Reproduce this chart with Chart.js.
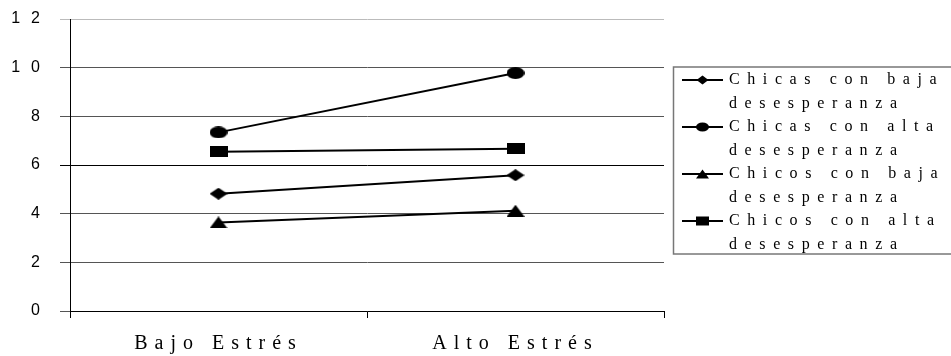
<!DOCTYPE html>
<html>
<head>
<meta charset="utf-8">
<script src="https://cdn.jsdelivr.net/npm/chart.js@4/dist/chart.umd.min.js"></script>
<style>
  html, body { margin: 0; padding: 0; background: #fff; }
  #wrap { width: 951px; height: 356px; }
</style>
</head>
<body>
<div id="wrap"><canvas id="chart"></canvas></div>
<script>
// data
const stressLevels = ['Bajo Estrés', 'Alto Estrés'];
const yTicks = [0, 2, 4, 6, 8, 10, 12];
const chicasBaja = [4.82, 5.58];
const chicasAlta = [7.34, 9.78];
const chicosBaja = [3.64, 4.12];
const chicosAlta = [6.54, 6.67];
const seriesNames = [
    ['Chicas con baja', 'desesperanza'],
    ['Chicas con alta', 'desesperanza'],
    ['Chicos con baja', 'desesperanza'],
    ['Chicos con alta', 'desesperanza']
];
const shapes = ['diamond', 'circle', 'triangle', 'square'];

// small canvases used as point styles (markers are wider than tall)
function drawShape(c, shape, cx, cy, w, h) {
    c.beginPath();
    if (shape === 'diamond') {
        c.moveTo(cx - w / 2, cy); c.lineTo(cx, cy - h / 2);
        c.lineTo(cx + w / 2, cy); c.lineTo(cx, cy + h / 2);
    } else if (shape === 'circle') {
        c.ellipse(cx, cy, w / 2, h / 2, 0, 0, Math.PI * 2);
    } else if (shape === 'triangle') {
        c.moveTo(cx, cy - h / 2); c.lineTo(cx + w / 2, cy + h / 2); c.lineTo(cx - w / 2, cy + h / 2);
    } else {
        c.rect(cx - w / 2, cy - h / 2, w, h);
    }
    c.closePath();
    c.fillStyle = '#000';
    c.fill();
}

function markerCanvas(shape, w, h) {
    const cv = document.createElement('canvas');
    cv.width = w; cv.height = h;
    drawShape(cv.getContext('2d'), shape, w / 2, h / 2, w, h);
    return cv;
}

const plotMarkers = {
    diamond: markerCanvas('diamond', 18, 12),
    circle: markerCanvas('circle', 18, 12),
    triangle: markerCanvas('triangle', 18, 12),
    square: markerCanvas('square', 18, 11)
};

function makeSet(name, values, shape) {
    return {
        label: name.join(' '),
        data: values,
        borderColor: '#000',
        backgroundColor: '#000',
        borderWidth: 2,
        pointStyle: plotMarkers[shape],
        pointRadius: 6,
        pointHoverRadius: 6,
        tension: 0
    };
}

// letter spacing on tick labels, like the spaced-out text of the original
function spaceLabels(scale, spacing) {
    if (scale._spaced) return;
    const orig = scale.drawLabels.bind(scale);
    scale.drawLabels = function (area) {
        const c = this.ctx;
        c.save();
        c.letterSpacing = spacing;
        orig(area);
        c.restore();
    };
    scale._spaced = true;
}

const legendBox = {
    id: 'legendBox',
    beforeDraw(chart) {
        spaceLabels(chart.scales.x, '7px');
        spaceLabels(chart.scales.y, '11px');
    },
    afterDraw(chart) {
        const c = chart.ctx;
        c.save();
        c.strokeStyle = '#777';
        c.lineWidth = 1.5;
        c.strokeRect(673.5, 67, 290, 187);
        c.font = '16px "Liberation Serif", "Times New Roman", serif';
        c.letterSpacing = '7.6px';
        c.textBaseline = 'middle';
        c.fillStyle = '#000';
        seriesNames.forEach((lines, i) => {
            const y = 80 + i * 47;
            c.beginPath();
            c.moveTo(682, y); c.lineTo(723, y);
            c.lineWidth = 2;
            c.strokeStyle = '#000';
            c.stroke();
            drawShape(c, shapes[i], 702.5, y, shapes[i] === 'diamond' ? 12 : 13, 9);
            lines.forEach((t, j) => c.fillText(t, 729, y + j * 23.5));
        });
        c.restore();
    }
};

new Chart(document.getElementById('chart'), {
    type: 'line',
    data: {
        labels: stressLevels,
        datasets: [
            makeSet(seriesNames[0], chicasBaja, 'diamond'),
            makeSet(seriesNames[1], chicasAlta, 'circle'),
            makeSet(seriesNames[2], chicosBaja, 'triangle'),
            makeSet(seriesNames[3], chicosAlta, 'square')
        ]
    },
    options: {
        responsive: true,
        maintainAspectRatio: false,
        animation: false,
        events: [],
        layout: { padding: { top: 19, right: 287, bottom: 0, left: 0 } },
        plugins: {
            legend: { display: false },
            tooltip: { enabled: false }
        },
        scales: {
            x: {
                offset: true,
                afterFit: s => { s.height = 45; },
                grid: {
                    offset: true,
                    drawOnChartArea: false,
                    drawTicks: true,
                    tickLength: 7,
                    tickColor: '#000'
                },
                border: { color: '#000', width: 1 },
                ticks: {
                    color: '#000',
                    padding: 14,
                    maxRotation: 0,
                    autoSkip: false,
                    font: { family: '"Liberation Serif", "Times New Roman", serif', size: 20 }
                }
            },
            y: {
                min: 0,
                max: 12,
                afterFit: s => { s.width = 70; },
                afterBuildTicks: s => { s.ticks = yTicks.map(v => ({ value: v })); },
                grid: {
                    color: ctx => ctx.tick.value === 12 ? '#bbbbbb' : (ctx.tick.value === 6 ? '#000' : '#555'),
                    tickColor: ctx => ctx.tick.value === 12 ? '#bbbbbb' : (ctx.tick.value === 6 ? '#000' : '#555'),
                    tickLength: 10,
                    lineWidth: 1
                },
                border: { color: '#000', width: 1 },
                ticks: {
                    color: '#000',
                    padding: 9,
                    font: { family: '"Liberation Sans", Arial, sans-serif', size: 16 }
                }
            }
        }
    },
    plugins: [legendBox]
});
</script>
</body>
</html>
